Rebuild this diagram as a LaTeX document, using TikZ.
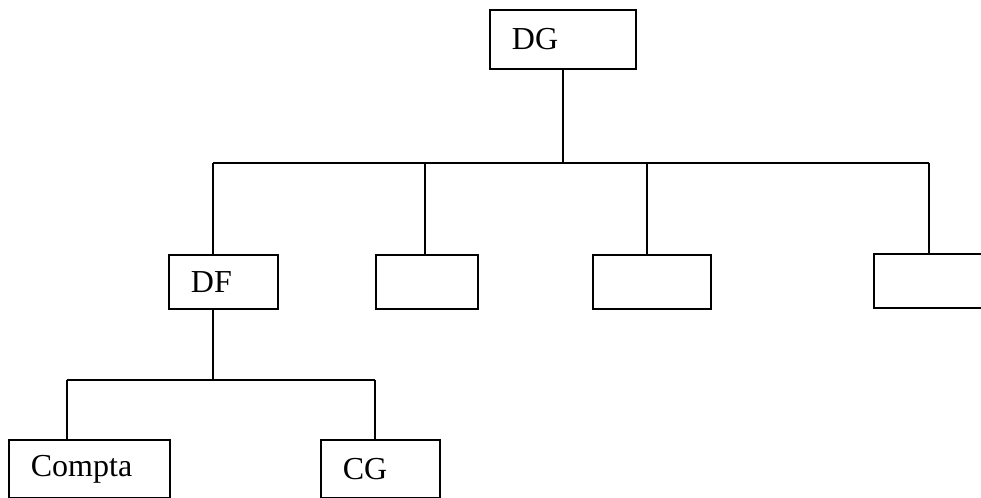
\documentclass[tikz,border=0pt]{standalone}
\usepackage{fontspec}
\setmainfont{Liberation Serif}
\usetikzlibrary{positioning}
\tikzset{
 box/.style={draw,line width=0.9pt,anchor=north west,align=left,inner xsep=11pt,
             inner ysep=0pt,minimum height=27pt,font=\fontsize{16}{19}\selectfont},
 link/.style={line width=0.9pt}
}

\begin{document}
\begin{tikzpicture}[x=0.5pt,y=-0.5pt]
\useasboundingbox (0,0) rectangle (981,498);
\clip (0,0) rectangle (981,498);
\node[box,text width=51pt,minimum height=29.5pt] (dg) at (489,9) {DG};
\node[box,text width=32.5pt] (df) at (168,254) {DF};
\node[box,text width=29pt] (b2) at (375,254) {};
\node[box,text width=37pt] (b3) at (592,254) {};
\node[box,text width=34pt] (b4) at (873,253) {};
\node[box,text width=58.5pt,minimum height=29pt] (compta) at (8,439) {Compta};
\node[box,text width=37.5pt,minimum height=29pt] (cg) at (320,439) {CG};
\coordinate (busL) at (213,163);
\coordinate (bus2) at (425,163);
\coordinate (bus3) at (647,163);
\coordinate (busR) at (929,163);
\coordinate (subL) at (67,380);
\coordinate (subR) at (375,380);
\draw[link] (dg.south) -- (dg.south |- busL);
\draw[link] (busL) -- (busR);
\draw[link] (busL) -- (busL |- df.north);
\draw[link] (bus2) -- (bus2 |- b2.north);
\draw[link] (bus3) -- (bus3 |- b3.north);
\draw[link] (busR) -- (busR |- b4.north);
\draw[link] (busL |- df.south) -- (busL |- subL);
\draw[link] (subL) -- (subR);
\draw[link] (subL) -- (subL |- compta.north);
\draw[link] (subR) -- (subR |- cg.north);
\end{tikzpicture}
\end{document}
